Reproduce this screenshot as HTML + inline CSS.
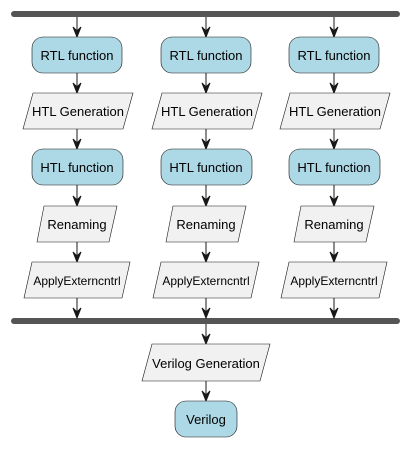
<!DOCTYPE html>
<html><head><style>
body{margin:0;background:#fff}
text{font-family:"Liberation Sans","DejaVu Sans",sans-serif;font-size:13px;fill:#000;text-anchor:middle}
text.s{font-size:12px}
</style></head><body>
<svg width="411" height="447" xmlns="http://www.w3.org/2000/svg">
<defs>
<g id="ah"><polygon points="-4,-10 0,0 4,-10 0,-6" fill="#181818" stroke="#181818"/></g>
</defs>
<rect x="11" y="11" width="389" height="6" rx="3" fill="#555"/>
<rect x="11" y="318" width="389" height="6" rx="3" fill="#555"/>
<g stroke="#181818" stroke-width="1" fill="#181818">
<line x1="77" y1="17" x2="77" y2="37"/><line x1="206" y1="17" x2="206" y2="37"/><line x1="334" y1="17" x2="334" y2="37"/>
<line x1="77" y1="73" x2="77" y2="93"/><line x1="206" y1="73" x2="206" y2="93"/><line x1="334" y1="73" x2="334" y2="93"/>
<line x1="77" y1="129" x2="77" y2="149"/><line x1="206" y1="129" x2="206" y2="149"/><line x1="334" y1="129" x2="334" y2="149"/>
<line x1="77" y1="185" x2="77" y2="206"/><line x1="206" y1="185" x2="206" y2="206"/><line x1="334" y1="185" x2="334" y2="206"/>
<line x1="77" y1="242" x2="77" y2="262"/><line x1="206" y1="242" x2="206" y2="262"/><line x1="334" y1="242" x2="334" y2="262"/>
<line x1="77" y1="298" x2="77" y2="318"/><line x1="206" y1="298" x2="206" y2="318"/><line x1="334" y1="298" x2="334" y2="318"/>
<line x1="206" y1="324" x2="206" y2="344"/><line x1="206" y1="381" x2="206" y2="401"/>
</g>
<g>
<use href="#ah" x="77" y="37"/><use href="#ah" x="206" y="37"/><use href="#ah" x="334" y="37"/>
<use href="#ah" x="77" y="93"/><use href="#ah" x="206" y="93"/><use href="#ah" x="334" y="93"/>
<use href="#ah" x="77" y="149"/><use href="#ah" x="206" y="149"/><use href="#ah" x="334" y="149"/>
<use href="#ah" x="77" y="206"/><use href="#ah" x="206" y="206"/><use href="#ah" x="334" y="206"/>
<use href="#ah" x="77" y="262"/><use href="#ah" x="206" y="262"/><use href="#ah" x="334" y="262"/>
<use href="#ah" x="77" y="318"/><use href="#ah" x="206" y="318"/><use href="#ah" x="334" y="318"/>
<use href="#ah" x="206" y="344"/><use href="#ah" x="206" y="401"/>
</g>
<g stroke="#181818" stroke-width="0.6">
<rect x="32" y="37" width="90" height="36" rx="11" fill="#add8e6"/>
<rect x="161" y="37" width="90" height="36" rx="11" fill="#add8e6"/>
<rect x="289" y="37" width="90" height="36" rx="11" fill="#add8e6"/>
<rect x="32" y="149" width="91" height="36" rx="11" fill="#add8e6"/>
<rect x="161" y="149" width="91" height="36" rx="11" fill="#add8e6"/>
<rect x="289" y="149" width="91" height="36" rx="11" fill="#add8e6"/>
<rect x="175" y="401" width="62" height="36" rx="11" fill="#add8e6"/>
<g fill="#f1f1f1">
<polygon points="33,93 133,93 123,129 23,129"/>
<polygon points="162,93 262,93 252,129 152,129"/>
<polygon points="290,93 390,93 380,129 280,129"/>
<polygon points="44,206 117,206 109,242 37,242"/>
<polygon points="173,206 246,206 238,242 166,242"/>
<polygon points="301,206 374,206 366,242 294,242"/>
<polygon points="32,262 130,262 122,298 24,298"/>
<polygon points="161,262 259,262 251,298 153,298"/>
<polygon points="289,262 387,262 379,298 281,298"/>
<polygon points="152,344 270,344 260,381 142,381"/>
</g>
</g>
<g>
<text x="77" y="60">RTL function</text><text x="206" y="60">RTL function</text><text x="334" y="60">RTL function</text>
<text x="78" y="116">HTL Generation</text><text x="207" y="116">HTL Generation</text><text x="335" y="116">HTL Generation</text>
<text x="77" y="172">HTL function</text><text x="206" y="172">HTL function</text><text x="334" y="172">HTL function</text>
<text x="77" y="229">Renaming</text><text x="206" y="229">Renaming</text><text x="334" y="229">Renaming</text>
<text class="s" x="77" y="285">ApplyExterncntrl</text><text class="s" x="206" y="285">ApplyExterncntrl</text><text class="s" x="334" y="285">ApplyExterncntrl</text>
<text x="206" y="368">Verilog Generation</text>
<text x="206" y="424">Verilog</text>
</g>
</svg>
</body></html>
